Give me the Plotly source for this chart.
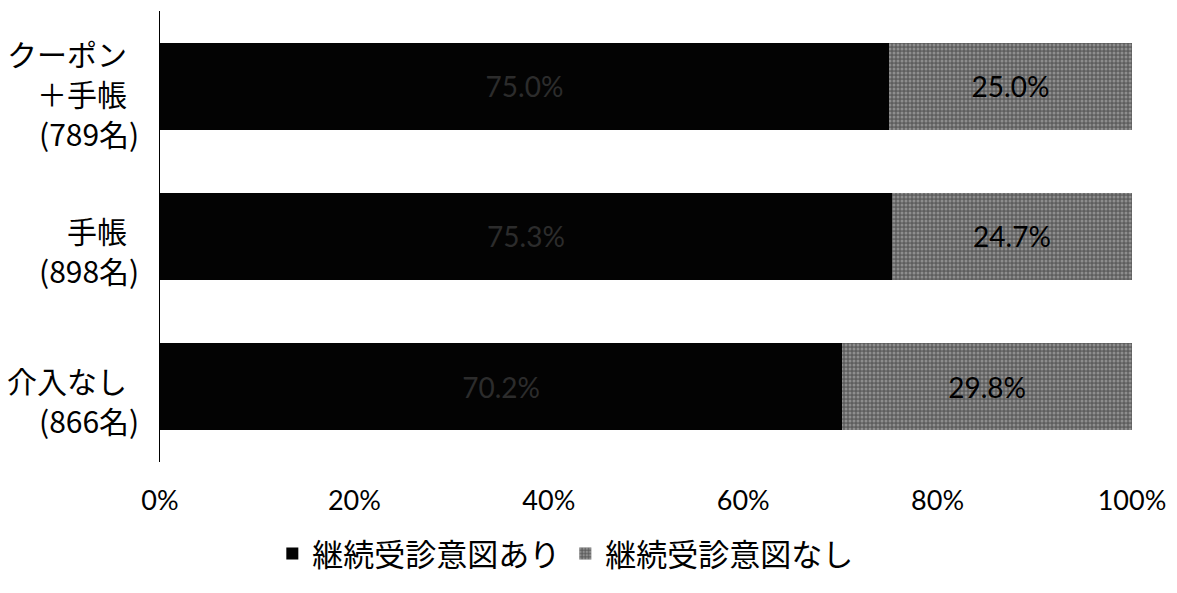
import plotly.graph_objects as go

categories = ["クーポン<br>＋手帳<br>(789名)", "手帳<br>(898名)", "介入なし<br>(866名)"]
intent_yes = [75.0, 75.3, 70.2]
intent_no = [25.0, 24.7, 29.8]
series_names = ["継続受診意図あり", "継続受診意図なし"]
tick_vals = [0, 20, 40, 60, 80, 100]
tick_text = ["0%", "20%", "40%", "60%", "80%", "100%"]

CJK = "Noto Sans CJK JP, sans-serif"
NUM = "Lato, Noto Sans CJK JP, sans-serif"
ys = list(range(len(categories)))

fig = go.Figure()
fig.add_trace(go.Bar(
    y=ys, x=intent_yes, orientation="h", name=series_names[0],
    marker=dict(color="#030303", line=dict(width=0)),
    text=[f"{v:.1f}%" for v in intent_yes], textposition="inside",
    insidetextanchor="middle",
    textfont=dict(color="#2c2c2c", size=28, family=NUM),
    width=0.58,
))
fig.add_trace(go.Bar(
    y=ys, x=intent_no, orientation="h", name=series_names[1],
    marker=dict(color="#5e5e5e", line=dict(width=0),
                pattern=dict(shape=".", fgcolor="#bdbdbd", size=4, solidity=0.45)),
    text=[f"{v:.1f}%" for v in intent_no], textposition="inside",
    insidetextanchor="middle",
    textfont=dict(color="#000000", size=28, family=NUM),
    width=0.58,
))

# category labels: one line per annotation, block centred a little below the bar
LINE_GAP = 40
label_drop = [7, 14, 13]
for i, c in enumerate(categories):
    lines = c.split("<br>")
    first = -(len(lines) - 1) * LINE_GAP / 2
    for j, line in enumerate(lines):
        paren = line.startswith("(")
        fig.add_annotation(
            x=0, xref="paper", y=i, yref="y", xanchor="right", yanchor="middle",
            text=line, showarrow=False, align="right",
            xshift=-19 if paren else -31,
            yshift=-(label_drop[i] + first + j * LINE_GAP),
            font=dict(size=30, color="#000", family=CJK),
        )

fig.update_layout(
    barmode="stack",
    width=1177, height=593,
    margin=dict(l=160, r=45, t=11, b=129),
    paper_bgcolor="white", plot_bgcolor="white",
    font=dict(family=CJK, color="#000"),
    showlegend=True,
    legend=dict(orientation="h", x=0.417, xanchor="center",
                yref="container", y=0.066, yanchor="middle",
                font=dict(size=31, family=CJK), itemsizing="constant",
                traceorder="normal"),
    xaxis=dict(range=[0, 100], tickvals=tick_vals, ticktext=tick_text,
               showgrid=False, zeroline=False, showline=False, ticks="",
               tickfont=dict(size=27, family=NUM, color="#000"),
               ticklabelstandoff=20),
    yaxis=dict(range=[2.5, -0.5], showticklabels=False, showgrid=False,
               zeroline=False, showline=True, linecolor="#000", linewidth=1,
               ticks=""),
)

fig.write_html("out.html")
